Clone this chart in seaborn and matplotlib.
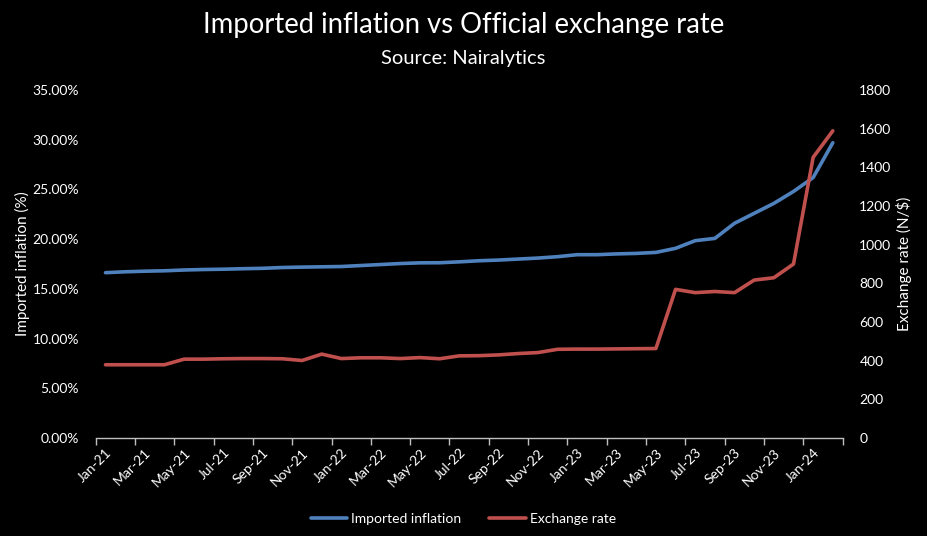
import matplotlib
matplotlib.use("Agg")
from matplotlib import pyplot as plt
from matplotlib.ticker import PercentFormatter, MultipleLocator, FixedLocator
import numpy as np
import pandas as pd
import seaborn as sns

# monthly data Jan-21 .. Feb-24
months = pd.date_range("2021-01-01", periods=38, freq="MS").strftime("%b-%y").tolist()

imported_inflation = [16.63, 16.72, 16.78, 16.82, 16.90, 16.95, 16.98, 17.03, 17.07, 17.15,
                      17.19, 17.22, 17.25, 17.35, 17.45, 17.55, 17.62, 17.63, 17.72, 17.83,
                      17.90, 18.00, 18.10, 18.24, 18.44, 18.44, 18.52, 18.57, 18.67, 19.08,
                      19.85, 20.08, 21.60, 22.60, 23.60, 24.80, 26.20, 29.70]

exchange_rate = [379, 379, 379, 379, 408, 408, 410, 411, 411, 410,
                 401, 434, 411, 415, 415, 411, 416, 410, 425, 426,
                 430, 437, 442, 459, 460, 460, 461, 462, 463, 769,
                 752, 758, 752, 817, 829, 900, 1452, 1589]

df = pd.DataFrame({"pos": np.arange(len(months)), "month": months,
                   "inflation": imported_inflation, "rate": exchange_rate})

sns.set_style("dark")
plt.rcParams["font.family"] = ["Lato", "DejaVu Sans"]

blue = "#4F81BD"
red = "#C0504D"
fg = "white"

fig = plt.figure(figsize=(9.27, 5.36), dpi=100, facecolor="black")
ax = fig.add_axes([0.1032, 0.1828, 0.8058, 0.6492])
ax.set_facecolor("black")
ax2 = ax.twinx()

sns.lineplot(data=df, x="pos", y="inflation", ax=ax, color=blue, linewidth=2.6,
             label="Imported inflation", legend=False)
sns.lineplot(data=df, x="pos", y="rate", ax=ax2, color=red, linewidth=2.6,
             label="Exchange rate", legend=False)

ax.set_xlim(-0.5, len(months) - 0.5)
ax.set_ylim(0, 35)
ax2.set_ylim(0, 1800)
ax.yaxis.set_major_locator(MultipleLocator(5))
ax.yaxis.set_major_formatter(PercentFormatter(decimals=2))
ax2.yaxis.set_major_locator(MultipleLocator(200))

# labels every other month, tick marks between categories
ax.set_xticks(df["pos"][::2])
ax.set_xticklabels(df["month"][::2], rotation=45, ha="right", va="top",
                   rotation_mode="anchor")
ax.xaxis.set_minor_locator(FixedLocator(np.arange(-0.5, len(months), 2)))
ax.tick_params(axis="x", which="major", length=0, pad=6, colors=fg, labelsize=10)
ax.tick_params(axis="x", which="minor", length=5, width=1, color="#BFBFBF",
               direction="out", bottom=True)
ax.tick_params(axis="y", length=0, pad=12, colors=fg, labelsize=10)
ax2.tick_params(axis="y", length=0, pad=12, colors=fg, labelsize=10)

for a in (ax, ax2):
    for s in a.spines.values():
        s.set_visible(False)
    a.grid(False)
ax.spines["bottom"].set_visible(True)
ax.spines["bottom"].set_color("#BFBFBF")
ax.spines["bottom"].set_linewidth(1)

ax.set_xlabel("")
ax.set_ylabel("Imported inflation (%)", color=fg, fontsize=11)
ax2.set_ylabel("Exchange rate (N/$)", color=fg, fontsize=11)
ax.yaxis.set_label_coords(-0.088, 0.5)
ax2.yaxis.set_label_coords(1.072, 0.5)

fig.text(0.5, 0.953, "Imported inflation vs Official exchange rate", color=fg,
         fontsize=19.8, ha="center", va="center")
fig.text(0.5, 0.890, "Source: Nairalytics", color=fg, fontsize=14.5,
         ha="center", va="center")

handles = ax.get_lines() + ax2.get_lines()
leg = fig.legend(handles, ["Imported inflation", "Exchange rate"], loc="center",
                 bbox_to_anchor=(0.5, 0.032), ncol=2, frameon=False, fontsize=10,
                 handlelength=2.6, handletextpad=0.3, columnspacing=2.0)
for t in leg.get_texts():
    t.set_color(fg)

fig.savefig("out.png", dpi=100, facecolor="black")
